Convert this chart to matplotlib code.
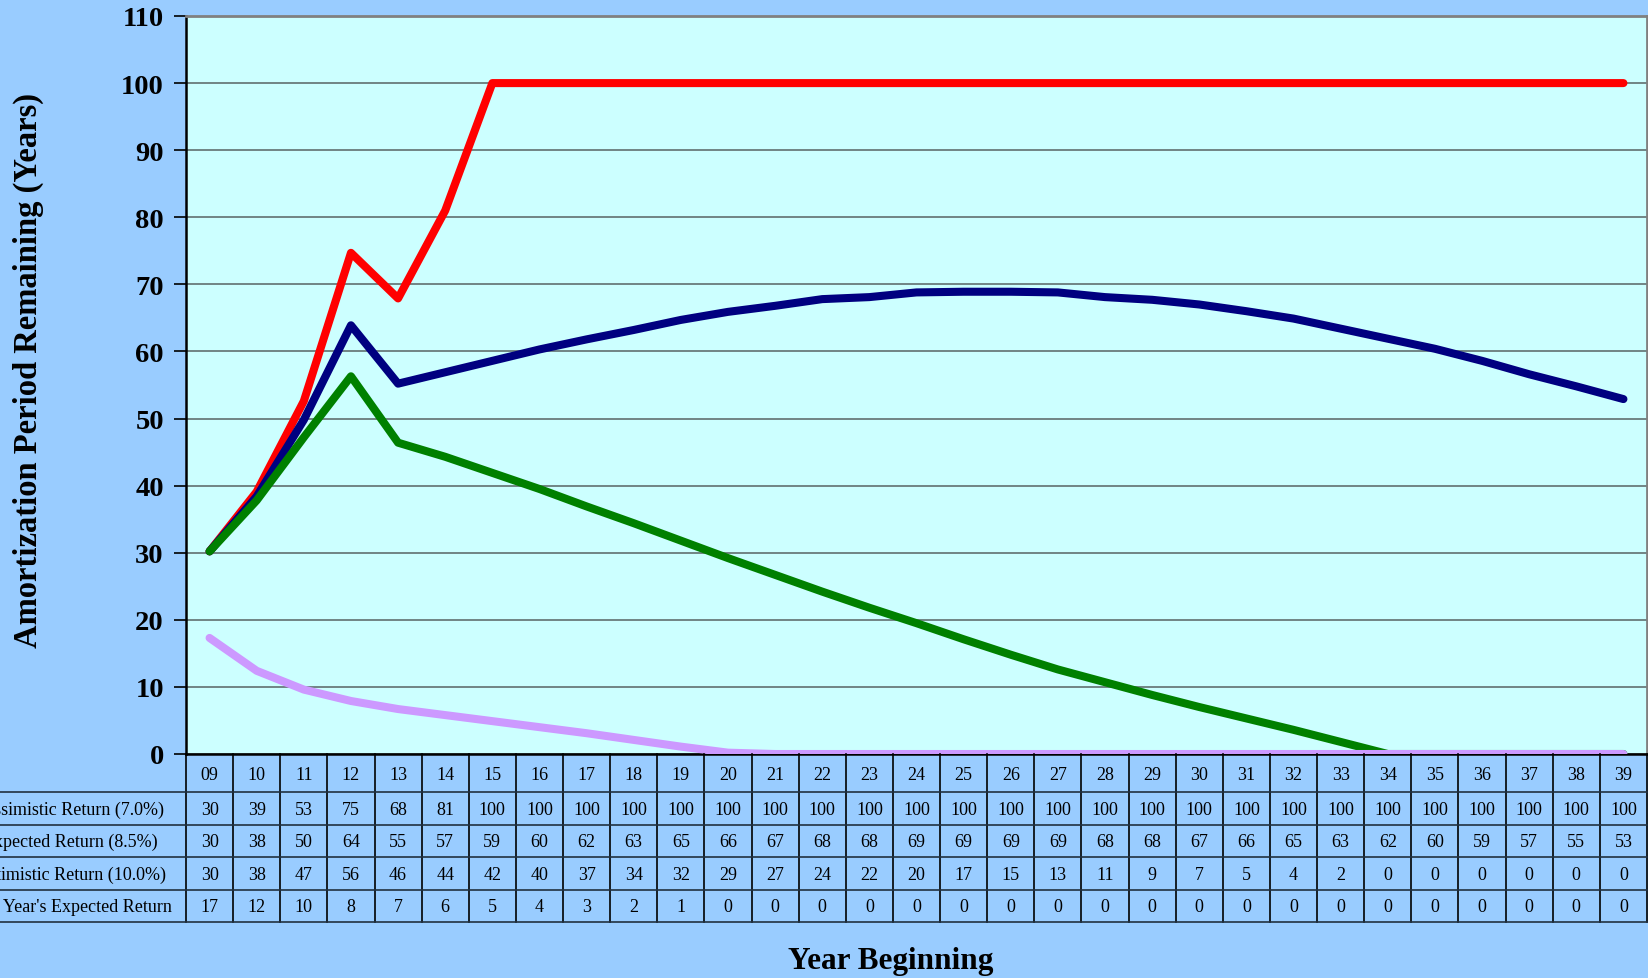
import matplotlib
matplotlib.use('Agg')
import matplotlib.pyplot as plt

plt.rcParams['font.family'] = ['Liberation Serif', 'DejaVu Serif']

years = ['09', '10', '11', '12', '13', '14', '15', '16', '17', '18', '19', '20',
         '21', '22', '23', '24', '25', '26', '27', '28', '29', '30', '31', '32',
         '33', '34', '35', '36', '37', '38', '39']

pessimistic = [30.2, 39.1, 52.6, 74.7, 67.9, 81.0, 100, 100, 100, 100, 100, 100,
               100, 100, 100, 100, 100, 100, 100, 100, 100, 100, 100, 100,
               100, 100, 100, 100, 100, 100, 100]
expected = [30.2, 38.4, 49.8, 63.9, 55.2, 56.9, 58.6, 60.3, 61.8, 63.2, 64.7, 65.9,
            66.8, 67.8, 68.1, 68.8, 68.9, 68.9, 68.8, 68.1, 67.7, 67.0, 66.0, 64.9,
            63.4, 61.9, 60.4, 58.6, 56.6, 54.8, 52.9]
optimistic = [30.2, 37.8, 47.2, 56.3, 46.4, 44.3, 41.9, 39.5, 36.9, 34.4, 31.8, 29.2,
              26.7, 24.2, 21.8, 19.5, 17.1, 14.8, 12.6, 10.7, 8.8, 7.0, 5.3, 3.6,
              1.8, 0.0, 0.0, 0.0, 0.0, 0.0, 0.0]
last_year = [17.3, 12.4, 9.6, 7.9, 6.7, 5.8, 4.9, 4.0, 3.1, 2.1, 1.1, 0.2,
             0.0, 0.0, 0.0, 0.0, 0.0, 0.0, 0.0, 0.0, 0.0, 0.0, 0.0, 0.0,
             0.0, 0.0, 0.0, 0.0, 0.0, 0.0, 0.0]

series_labels = ['Pessimistic Return (7.0%)', 'Expected Return (8.5%)',
                 'Optimistic Return (10.0%)', "Last Year's Expected Return"]
series = [pessimistic, expected, optimistic, last_year]
colors = ['#FF0000', '#000080', '#008000', '#CC99FF']

bg = '#99CCFF'
W, H = 1648, 979
fig = plt.figure(figsize=(W / 100, H / 100), dpi=100, facecolor=bg)

# plot area in pixel terms
left, right, top, bottom = 186, 1647, 17, 755
ax = fig.add_axes([left / W, 1 - bottom / H, (right - left) / W, (bottom - top) / H])
ax.set_facecolor('#CCFFFF')

x = list(range(len(years)))
# later series are drawn on top, like the original
for vals, c in zip(series, colors):
    ax.plot(x, vals, color=c, lw=5.8, solid_capstyle='round', solid_joinstyle='round', zorder=3)

ax.set_xlim(-0.5, len(years) - 0.5)
ax.set_ylim(0, 110)
ax.set_yticks(range(0, 111, 10))
ax.set_yticklabels([str(v) for v in range(0, 111, 10)], fontsize=20.5, fontweight='bold')
ax.set_xticks([])
ax.yaxis.grid(True, color='#607070', lw=1.2)
ax.set_axisbelow(True)
ax.tick_params(axis='y', length=9, width=1.2, pad=7)
ax.spines['left'].set_color('black')
ax.spines['left'].set_linewidth(1.8)
ax.spines['bottom'].set_color('black')
ax.spines['bottom'].set_linewidth(1.8)
for s in ['top', 'right']:
    ax.spines[s].set_color('#808080')
    ax.spines[s].set_linewidth(2)

fig.text(28 / W, 1 - 370 / H, 'Amortization Period Remaining (Years)', rotation=90,
         ha='center', va='center', fontsize=23.5, fontweight='bold')

# data table beneath the plot
tb_bottom = 923
tab = fig.add_axes([left / W, 1 - tb_bottom / H, (right - left) / W, (tb_bottom - bottom) / H])
tab.set_facecolor('none')
tab.set_xlim(-0.5, len(years) - 0.5)
tab.set_ylim(tb_bottom - bottom, 0)
tab.axis('off')

rows = [0, 38, 70.5, 103, 135.5, 168]
colw = (right - left) / len(years)
xl = -0.5 - left / colw

for i in range(len(years) + 1):
    tab.plot([i - 0.5, i - 0.5], [0, rows[-1]], color='black', lw=1.2, clip_on=False)
for r in rows[1:]:
    tab.plot([xl, len(years) - 0.5], [r, r], color='#203040', lw=1.2, clip_on=False)

for i, yr in enumerate(years):
    tab.text(i, (rows[0] + rows[1]) / 2 + 1, yr, ha='center', va='center', fontsize=13)
for k, (lab, vals) in enumerate(zip(series_labels, series)):
    yc = (rows[k + 1] + rows[k + 2]) / 2 + 1
    tab.text(-0.5 - 116 / colw, yc, lab, ha='center', va='center', fontsize=13, clip_on=False)
    for i, v in enumerate(vals):
        tab.text(i, yc, f'{v:.0f}', ha='center', va='center', fontsize=13)

fig.text(891 / W, 1 - 962 / H, 'Year Beginning', ha='center', va='center',
         fontsize=22.5, fontweight='bold')

fig.savefig('out.png', dpi=100, facecolor=bg)
